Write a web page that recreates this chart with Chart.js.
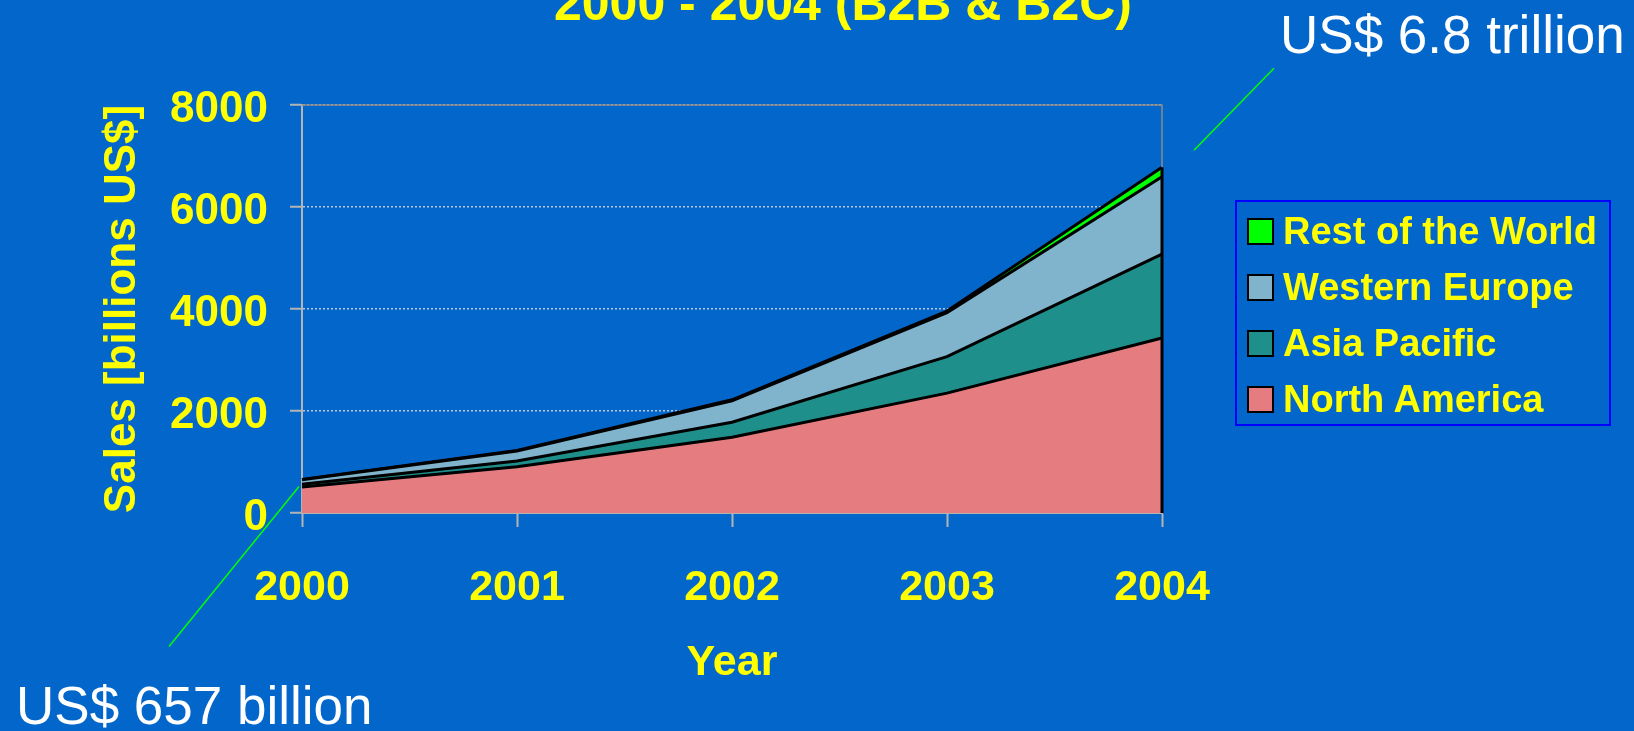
<!DOCTYPE html>
<html>
<head>
<meta charset="utf-8">
<title>E-commerce sales 2000 - 2004</title>
<script src="https://cdn.jsdelivr.net/npm/chart.js@4.4.1/dist/chart.umd.min.js"></script>
<style>
  html, body { margin: 0; padding: 0; background: #0366CB; overflow: hidden; }
  #wrap { position: relative; width: 1634px; height: 731px; }
  #legend {
    position: absolute; left: 1235px; top: 200px; width: 372px; height: 221px;
    border: 2px solid #0000FF; box-sizing: content-box;
    font: bold 38px 'Liberation Sans', Arial, sans-serif; color: #FFFF00;
    padding-top: 1px;
  }
  #legend .item { height: 56px; display: flex; align-items: center; padding-left: 10px; white-space: nowrap; }
  #legend .box { width: 23px; height: 23px; border: 2px solid #000; margin-right: 9px; flex: none; }
</style>
</head>
<body>
<div id="wrap">
  <canvas id="chart" width="1634" height="731"></canvas>
  <div id="legend"></div>
</div>
<script>
// Sales per region, billions US$
const years = ['2000', '2001', '2002', '2003', '2004'];
const northAmerica = [509, 905, 1485, 2350, 3430];
const asiaPacific = [54, 115, 295, 715, 1645];
const westernEurope = [87, 195, 420, 865, 1520];
const restOfWorld = [7, 13, 20, 30, 185];
const yTicks = [0, 2000, 4000, 6000, 8000];

const YELLOW = '#FFFF00';
const AXIS_GRAY = '#B4B4B4';
const FONT = "'Liberation Sans', Arial, sans-serif";

const totals = years.map((_, i) => northAmerica[i] + asiaPacific[i] + westernEurope[i] + restOfWorld[i]);

function series(label, data, color, fill) {
  return {
    label, data, fill,
    backgroundColor: color,
    borderColor: '#000000',
    borderWidth: 3,
    pointRadius: 0,
    tension: 0
  };
}

// frame on top/right, closing edge at 2004 and the two callouts
const framePlugin = {
  id: 'frame',
  afterDatasetsDraw(chart) {
    const { ctx, chartArea: a, scales: { x, y } } = chart;
    const xr = x.getPixelForValue(years.length - 1);
    ctx.save();
    ctx.strokeStyle = '#8C8C8C';
    ctx.lineWidth = 1.5;
    ctx.beginPath();
    ctx.moveTo(a.left, a.top);
    ctx.lineTo(xr, a.top);
    ctx.lineTo(xr, a.bottom);
    ctx.stroke();

    ctx.strokeStyle = '#000000';
    ctx.lineWidth = 3;
    ctx.beginPath();
    ctx.moveTo(xr, y.getPixelForValue(totals[totals.length - 1]));
    ctx.lineTo(xr, a.bottom);
    ctx.stroke();

    const pEnd = { x: xr, y: y.getPixelForValue(totals[totals.length - 1]) };
    const pStart = { x: x.getPixelForValue(0), y: y.getPixelForValue(totals[0]) };
    ctx.strokeStyle = '#00FF00';
    ctx.lineWidth = 1.5;
    ctx.beginPath();
    ctx.moveTo(pEnd.x + 32, pEnd.y - 17);
    ctx.lineTo(pEnd.x + 112, pEnd.y - 99);
    ctx.moveTo(pStart.x - 3, pStart.y + 7);
    ctx.lineTo(pStart.x - 133, pStart.y + 167);
    ctx.stroke();

    ctx.fillStyle = '#FFFFFF';
    ctx.font = '53px ' + FONT;
    ctx.textAlign = 'left';
    ctx.textBaseline = 'alphabetic';
    ctx.fillText('US$ 6.8 trillion', 1280, 53);
    ctx.fillText('US$ 657 billion', 16, 724);
    ctx.restore();
  }
};

const chart = new Chart(document.getElementById('chart'), {
  type: 'line',
  data: {
    labels: years,
    datasets: [
      series('North America', northAmerica, '#E57D80', 'origin'),
      series('Asia Pacific', asiaPacific, '#1F8F8B', '-1'),
      series('Western Europe', westernEurope, '#80B3CC', '-1'),
      series('Rest of the World', restOfWorld, '#00FF00', '-1')
    ]
  },
  options: {
    responsive: false,
    animation: false,
    layout: { padding: { left: 52, right: 0, top: 0, bottom: 0 } },
    plugins: {
      legend: { display: false },
      tooltip: { enabled: false },
      title: {
        display: true,
        text: '2000 - 2004 (B2B & B2C)',
        color: YELLOW,
        font: { family: FONT, size: 50, weight: 'bold' },
        padding: { top: -24, bottom: 69 }
      }
    },
    scales: {
      x: {
        offset: false,
        afterFit(scale) { scale.height = 218; },
        border: { display: true, color: AXIS_GRAY, width: 2 },
        grid: { drawOnChartArea: false, drawTicks: true, tickLength: 14, tickColor: AXIS_GRAY, tickWidth: 2 },
        ticks: { color: YELLOW, padding: 35, autoSkip: false, maxRotation: 0, font: { family: FONT, size: 43, weight: 'bold' } },
        title: {
          display: true, text: 'Year', color: YELLOW,
          font: { family: FONT, size: 43, weight: 'bold' },
          padding: { top: 0, bottom: 42 }
        }
      },
      y: {
        stacked: true,
        min: 0,
        max: 8000,
        afterFit(scale) { scale.width = 250; },
        afterBuildTicks(scale) { scale.ticks = yTicks.map(v => ({ value: v })); },
        border: { display: true, color: AXIS_GRAY, width: 2, dash: [2, 2] },
        grid: {
          color: c => (c.tick && c.tick.value === 0) ? 'rgba(0,0,0,0)' : 'rgba(205,210,220,0.9)',
          lineWidth: 1.5,
          tickLength: 12,
          tickColor: AXIS_GRAY,
          tickWidth: 2,
          tickBorderDash: []
        },
        ticks: {
          color: YELLOW, padding: 22, labelOffset: 5,
          font: { family: FONT, size: 44, weight: 'bold' },
          callback: v => String(v)
        },
        title: {
          display: true, text: 'Sales [billions US$]', color: YELLOW,
          font: { family: FONT, size: 44, weight: 'bold' },
          padding: { top: 44, bottom: 0 }
        }
      },
      // empty axis that keeps the right side free for the legend
      side: {
        type: 'linear',
        position: 'right',
        display: true,
        afterFit(scale) { scale.width = 472; },
        ticks: { display: false },
        grid: { display: false },
        border: { display: false }
      }
    }
  },
  plugins: [framePlugin]
});

// legend box, top series first
const legendEl = document.getElementById('legend');
chart.data.datasets.slice().reverse().forEach(ds => {
  const item = document.createElement('div');
  item.className = 'item';
  const box = document.createElement('span');
  box.className = 'box';
  box.style.background = ds.backgroundColor;
  const text = document.createElement('span');
  text.textContent = ds.label;
  item.appendChild(box);
  item.appendChild(text);
  legendEl.appendChild(item);
});
</script>
</body>
</html>
